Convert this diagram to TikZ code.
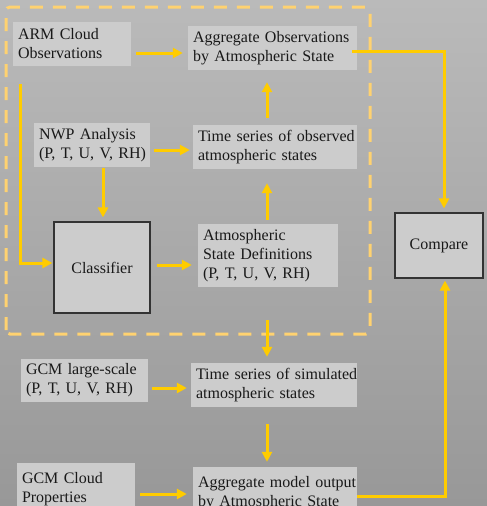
\documentclass[tikz,border=0pt]{standalone}
\usepackage{fontspec}
\setmainfont{Liberation Serif}
\usetikzlibrary{arrows.meta,calc}
\definecolor{bgtop}{RGB}{186,186,186}
\definecolor{bgbot}{RGB}{152,152,152}
\definecolor{boxfill}{RGB}{204,204,204}
\definecolor{arrowcol}{RGB}{255,204,0}
\definecolor{dashcol}{RGB}{255,210,112}
\definecolor{txt}{RGB}{25,25,25}
\tikzset{
  lbox/.style={fill=boxfill, inner xsep=5pt, inner ysep=0pt, align=left, text=txt,
    font=\fontsize{16}{19}\selectfont, anchor=center},
  framed/.style={lbox, draw=black!80, line width=1.2pt, align=center},
  arr/.style={draw=arrowcol, line width=3pt, -{Triangle[length=10pt,width=10pt]}},
  dashframe/.style={draw=dashcol, line width=3pt, dash pattern=on 13pt off 10pt, rounded corners=4pt}
}
\begin{document}
\begin{tikzpicture}[x=1pt,y=-1pt]
\useasboundingbox (0,0) rectangle (487,506);
\clip (0,0) rectangle (487,506);
\shade[top color=bgtop, bottom color=bgbot] (0,0) rectangle (487,506);

\draw[dashframe] (6,334) -- (6,7) -- (370,7) -- (370,334) -- cycle;

\node[lbox, text width=108pt, minimum height=44pt] (arm) at (72,44) {\mbox{ARM Cloud}\\\mbox{Observations}};
\node[lbox, text width=159pt, minimum height=44pt] (agg) at (272.5,48) {\mbox{Aggregate Observations}\\\mbox{by Atmospheric State}};
\node[lbox, text width=106pt, minimum height=44pt] (nwp) at (92,145) {\mbox{NWP Analysis}\\\mbox{(P, T, U, V, RH)}};
\node[lbox, text width=154pt, minimum height=44pt] (tso) at (275,147) {\mbox{Time series of observed}\\\mbox{atmospheric states}};
\node[framed, text width=86pt, minimum height=91pt] (cls) at (102,267.5) {Classifier};
\node[lbox, text width=130pt, minimum height=63pt] (asd) at (268,255.5) {\mbox{Atmospheric}\\\mbox{State Definitions}\\\mbox{(P, T, U, V, RH)}};
\node[framed, text width=78pt, minimum height=65pt] (cmp) at (439,245.5) {Compare};
\node[lbox, text width=117pt, minimum height=43pt] (gls) at (84.5,380.5) {\mbox{GCM large-scale}\\\mbox{(P, T, U, V, RH)}};
\node[lbox, text width=156pt, minimum height=44pt] (tss) at (274,385) {\mbox{Time series of simulated}\\\mbox{atmospheric states}};
\node[lbox, text width=108pt, minimum height=52pt] (gcc) at (76,489) {\mbox{GCM Cloud}\\\mbox{Properties}};
\node[lbox, text width=154pt, minimum height=52pt] (amo) at (275,493) {\mbox{Aggregate model output}\\\mbox{by Atmospheric State}};

\draw[arr] ($(arm.east)+(5,9)$) -- ($(agg.west)+(-5,5)$);
\draw[arr] ($(tso.north)+(-8,-7)$) -- ($(agg.south)+(-5.5,12)$);
\draw[arr] ($(agg.east)+(-5,3)$) -| ($(cmp.north)+(5,-4)$);
\draw[arr] ($(arm.south west)+(8,18)$) |- ($(cls.west)+(-1,-4.5)$);
\draw[arr] ($(nwp.east)+(4,5)$) -- ($(tso.west)+(-3,3)$);
\draw[arr] ($(nwp.south)+(11,1)$) -- ($(cls.north)+(1,-4)$);
\draw[arr] ($(cls.east)+(6,-2.5)$) -- ($(asd.west)+(-6,9.5)$);
\draw[arr] ($(asd.north)+(-1,-4)$) -- ($(tso.south)+(-8,14)$);
\draw[arr] ($(asd.south)+(-1,33)$) -- ($(tss.north)+(-7,-6)$);
\draw[arr] ($(gls.east)+(4,7.5)$) -- ($(tss.west)+(-4,3)$);
\draw[arr] ($(tss.south)+(-7,17)$) -- ($(amo.north)+(-8,-5)$);
\draw[arr] ($(gcc.east)+(5,5)$) -- ($(amo.west)+(-6,1)$);
\draw[arr] ($(amo.east)+(0,3)$) -| ($(cmp.south)+(6,2)$);
\end{tikzpicture}
\end{document}
